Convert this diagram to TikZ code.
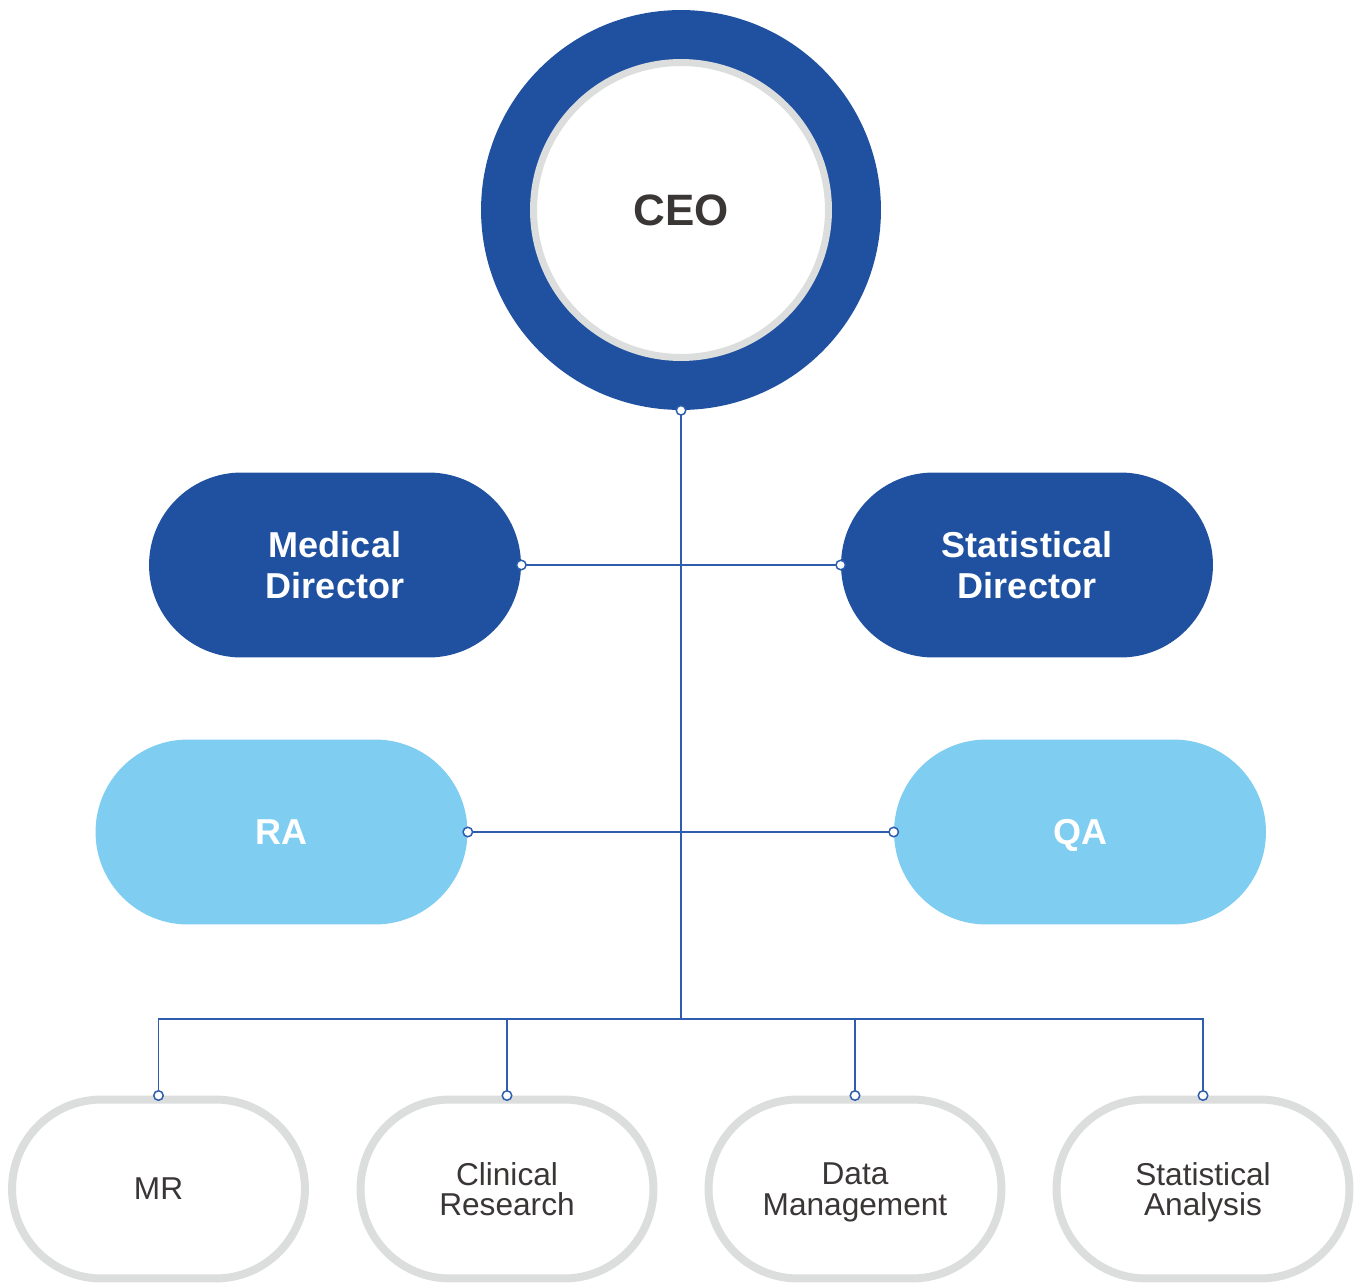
\documentclass[tikz,border=0pt]{standalone}
\usepackage{fontspec}
\setmainfont{Liberation Sans}
\definecolor{orgblue}{HTML}{1F51A0}
\definecolor{orgsky}{HTML}{80CDF2}
\definecolor{orgline}{HTML}{2E5DAE}
\definecolor{orggrey}{HTML}{DCDDDD}
\definecolor{orgtext}{HTML}{3A3636}
\tikzset{
  director/.style={fill=orgblue, text=white, font=\fontsize{20.5}{23.2}\selectfont\bfseries,
    minimum width=7.44cm, minimum height=3.7cm, rounded corners=1.85cm, align=center, text depth=0pt},
  unit/.style={director, fill=orgsky},
  team/.style={draw=orggrey, line width=0.16cm, fill=white, text=orgtext,
    font=\fontsize{18}{17.6}\selectfont, minimum width=5.86cm, minimum height=3.58cm,
    rounded corners=1.79cm, align=center, text depth=0pt},
  link/.style={orgline, line width=0.03cm},
  joint/.style={circle, draw=orgline, fill=white, line width=0.03cm, inner sep=0pt, minimum size=0.19cm}
}
\begin{document}
\begin{tikzpicture}[x=0.02cm, y=-0.02cm]
  \useasboundingbox (0,0) rectangle (1362,1284);
  \node[circle, fill=orgblue, minimum size=8cm, inner sep=0pt] (ceo) at (681,210) {};
  \node[circle, fill=white, draw=orggrey, line width=0.14cm, minimum size=5.9cm, text=orgtext,
    font=\fontsize{25}{28}\selectfont\bfseries, text depth=0pt] (ceotext) at (ceo) {CEO};
  \node[director] (md) at (335,565) {Medical\\Director};
  \node[director] (sd) at (1027,565) {Statistical\\Director};
  \node[unit] (ra) at (281.5,832) {RA};
  \node[unit] (qa) at (1080,832) {QA};
  \node[team] (mr) at (158.5,1189) {MR};
  \node[team] (cr) at (507,1189) {Clinical\\Research};
  \node[team] (dm) at (855,1189) {Data\\Management};
  \node[team] (sa) at (1203,1189) {Statistical\\Analysis};
  \coordinate (hub) at (681,1019);
  \draw[link] (ceo.south) -- (hub);
  \draw[link] (md.east) -- (sd.west);
  \draw[link] (ra.east) -- (qa.west);
  \foreach \t in {mr,cr,dm,sa}
    \draw[link] (hub) -| (\t.north);
  \foreach \a [count=\i] in {ceo.south,md.east,sd.west,ra.east,qa.west,mr.north,cr.north,dm.north,sa.north}
    \node[joint] (j\i) at (\a) {};
\end{tikzpicture}
\end{document}
